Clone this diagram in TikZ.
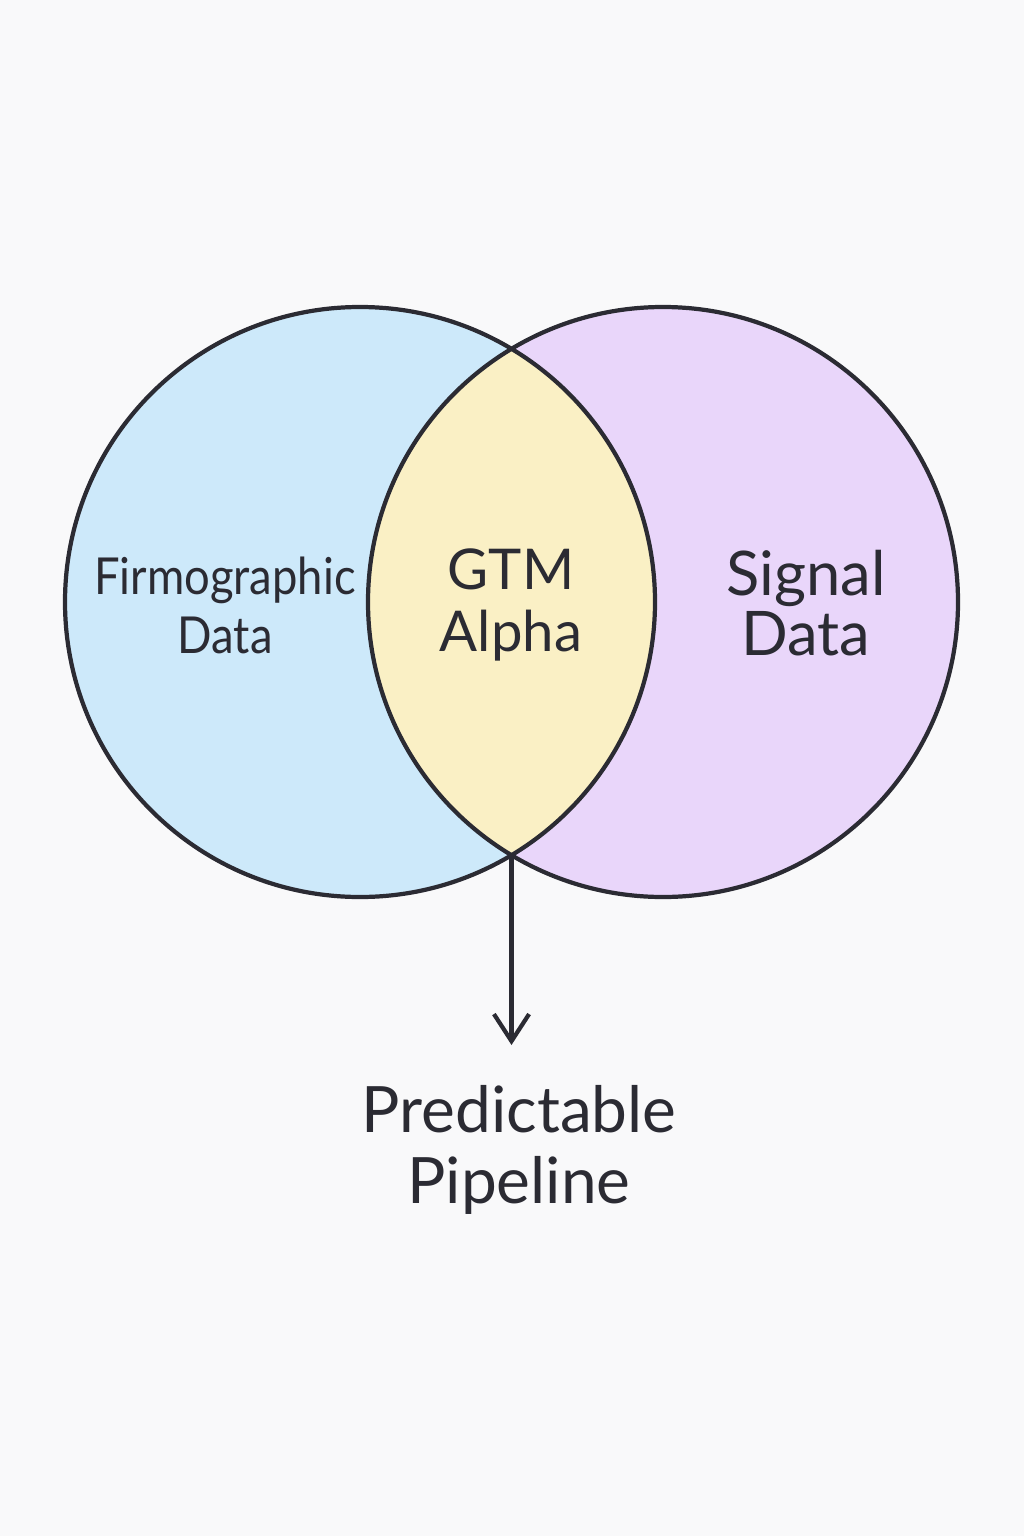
\documentclass[tikz,border=0pt]{standalone}
\usepackage{fontspec}
\setmainfont{Lato}
\usepackage{xcolor}
\usetikzlibrary{arrows.meta, positioning}

\begin{document}
\begin{tikzpicture}
% Two-set Venn diagram feeding a pipeline

\definecolor{bgpaper}{RGB}{249,249,250}
\definecolor{firmo}{RGB}{205,233,250}   % Blue - firmographic
\definecolor{signal}{RGB}{233,214,250}  % Lavender - signal
\definecolor{alpha}{RGB}{250,240,197}   % Yellow - overlap
\definecolor{ink}{RGB}{43,43,51}

\tikzset{
    set/.style={circle, minimum size=5.9cm, inner sep=0pt},
    lbl/.style={text=ink, align=center, inner sep=0pt}
}

% Page
\fill[bgpaper] (0,0) rectangle (10.24,-15.36);

% Sets
\node[set, fill=firmo] (left) at (3.60,-6.02) {};
\node[set, fill=signal] (right) at (6.63,-6.02) {};

% Overlap
\begin{scope}
    \clip (3.60,-6.02) circle (2.95);
    \fill[alpha] (6.63,-6.02) circle (2.95);
\end{scope}

% Outlines
\draw[ink, line width=1.2pt] (left.center) circle (2.95);
\draw[ink, line width=1.2pt] (right.center) circle (2.95);

% Labels
\node[lbl, font=\fontsize{14.5}{16.8}\selectfont\addfontfeature{FakeStretch=0.89}] (firmotxt) at (2.25,-6.05) {Firmographic\\Data};
\node[lbl, font=\fontsize{16}{17.6}\selectfont] (gtm) at (5.11,-6.05) {GTM\\Alpha};
\node[lbl, font=\fontsize{17.5}{17.2}\selectfont] (signaltxt) at (8.06,-6.03) {Signal\\Data};

% Output
\coordinate (meet) at (5.115,-8.555);
\coordinate (tip) at (5.115,-10.45);
\draw[ink, line width=1.2pt, -{Straight Barb[length=7.7pt, width=10pt]}] (meet) -- (tip);
\node[lbl, font=\fontsize{18.2}{20}\selectfont] (pipe) at (5.19,-11.50) {Predictable\\Pipeline};

\end{tikzpicture}
\end{document}
